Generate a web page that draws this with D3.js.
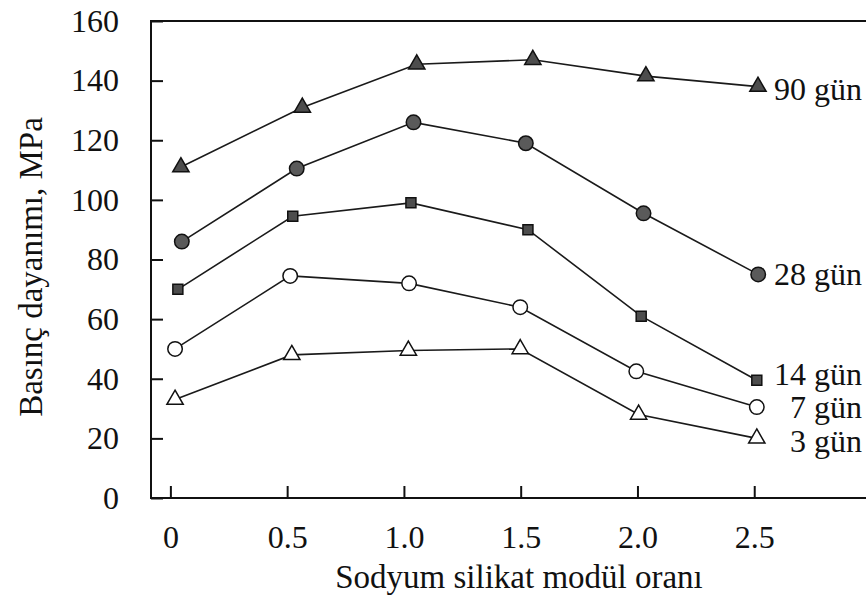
<!DOCTYPE html>
<html lang="tr">
<head>
    <meta charset="UTF-8">
    <title>Basınç dayanımı</title>
    <style>
        body { margin: 0; background: #fff; }
        svg text { font-family: "Liberation Serif", "Times New Roman", serif; fill: #111; }
    </style>
</head>
<body>
    <svg id="chart" width="866" height="599"></svg>

    <script src="https://d3js.org/d3.v7.min.js"></script>
    <script>
        // values (x slightly offset per curve, as plotted)
        const seriesNames = ["90 gün", "28 gün", "14 gün", "7 gün", "3 gün"];
        const x90 = [0.045, 0.565, 1.055, 1.552, 2.036, 2.516];
        const y90 = [111, 131, 145.5, 147, 141.5, 138];
        const x28 = [0.049, 0.541, 1.041, 1.522, 2.026, 2.517];
        const y28 = [86, 110.5, 126, 119, 95.5, 75];
        const x14 = [0.032, 0.524, 1.030, 1.531, 2.016, 2.511];
        const y14 = [70, 94.5, 99, 90, 61, 39.5];
        const x7 = [0.020, 0.513, 1.022, 1.498, 1.995, 2.511];
        const y7 = [50, 74.5, 72, 64, 42.5, 30.5];
        const x3 = [0.020, 0.520, 1.019, 1.498, 2.005, 2.511];
        const y3 = [33, 48, 49.5, 50, 28, 20];
        const xTicks = [0, 0.5, 1.0, 1.5, 2.0, 2.5];
        const yTicks = [0, 20, 40, 60, 80, 100, 120, 140, 160];

        const svg = d3.select("#chart");

        const plotLeft = 151, plotRight = 871, plotTop = 21, plotBottom = 498;

        const xScale = d3.scaleLinear().domain([-0.083, 3.0]).range([plotLeft, plotRight]);
        const yScale = d3.scaleLinear().domain([0, 160]).range([plotBottom, plotTop]);

        const series = [
            { name: seriesNames[0], xs: x90, ys: y90, shape: "tri", fill: "#4d4d4d", dy: 13 },
            { name: seriesNames[1], xs: x28, ys: y28, shape: "circle", fill: "#5a5a5a", dy: 11 },
            { name: seriesNames[2], xs: x14, ys: y14, shape: "square", fill: "#4d4d4d", dy: 5 },
            { name: seriesNames[3], xs: x7, ys: y7, shape: "circle", fill: "#fff", dy: 11 },
            { name: seriesNames[4], xs: x3, ys: y3, shape: "tri", fill: "#fff", dy: 14 }
        ];

        // frame
        svg.append("rect")
            .attr("x", plotLeft).attr("y", plotTop)
            .attr("width", plotRight - plotLeft).attr("height", plotBottom - plotTop)
            .attr("fill", "none").attr("stroke", "#111").attr("stroke-width", 2);

        const yAxis = d3.axisLeft(yScale)
            .tickValues(yTicks)
            .tickFormat(d3.format("d"))
            .tickSizeInner(-12).tickSizeOuter(0).tickPadding(32);

        const xAxis = d3.axisBottom(xScale)
            .tickValues(xTicks)
            .tickFormat((d) => d === 0 ? "0" : d3.format(".1f")(d))
            .tickSizeInner(-12).tickSizeOuter(0).tickPadding(27);

        const gy = svg.append("g")
            .attr("transform", `translate(${plotLeft}, 0)`)
            .call(yAxis);
        const gx = svg.append("g")
            .attr("transform", `translate(0, ${plotBottom})`)
            .call(xAxis);

        [gx, gy].forEach((g) => {
            g.select(".domain").remove();
            g.selectAll(".tick line").attr("stroke", "#111").attr("stroke-width", 2);
            g.selectAll(".tick text").attr("font-size", 32).attr("fill", "#111")
                .style("font-family", "'Liberation Serif', serif");
        });

        // axis titles
        svg.append("text")
            .attr("x", 519).attr("y", 588)
            .attr("text-anchor", "middle")
            .attr("font-size", 33)
            .text("Sodyum silikat modül oranı");

        svg.append("text")
            .attr("transform", "translate(42, 267) rotate(-90)")
            .attr("text-anchor", "middle")
            .attr("font-size", 33)
            .text("Basınç dayanımı, MPa");

        const line = d3.line()
            .x((d) => xScale(d[0]))
            .y((d) => yScale(d[1]));

        const symbols = {
            tri: d3.symbol().type(d3.symbolTriangle).size(115),
            circle: d3.symbol().type(d3.symbolCircle).size(165),
            square: d3.symbol().type(d3.symbolSquare).size(100)
        };

        series.forEach((s) => {
            const pts = s.xs.map((x, i) => [x, s.ys[i]]);

            svg.append("path")
                .attr("d", line(pts))
                .attr("fill", "none")
                .attr("stroke", "#1a1a1a")
                .attr("stroke-width", 1.6);

            svg.append("g").selectAll("path")
                .data(pts)
                .enter()
                .append("path")
                .attr("transform", (d) => `translate(${xScale(d[0])}, ${yScale(d[1])})`)
                .attr("d", symbols[s.shape]())
                .attr("fill", s.fill)
                .attr("stroke", "#111")
                .attr("stroke-width", 1.5);

            const last = pts[pts.length - 1];
            svg.append("text")
                .attr("x", 862)
                .attr("y", yScale(last[1]) + s.dy)
                .attr("text-anchor", "end")
                .attr("font-size", 32)
                .text(s.name);
        });
    </script>
</body>
</html>
